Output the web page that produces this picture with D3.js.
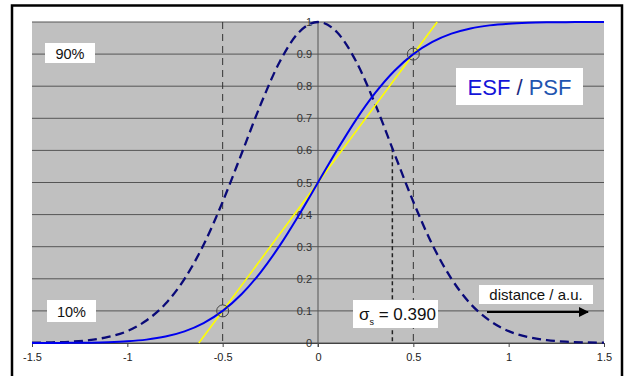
<!DOCTYPE html>
<html>
<head>
<meta charset="utf-8">
<script src="https://cdn.jsdelivr.net/npm/d3@7"></script>
<style>
  body { margin: 0; background: #fff; }
  svg { display: block; font-family: "Liberation Sans", Arial, sans-serif; }
</style>
</head>
<body>
<div id="chart"></div>
<script>
// distance samples (a.u.)
const xs = [-1.5, -1.4, -1.3, -1.2, -1.1, -1.0, -0.9, -0.8, -0.7, -0.6, -0.5, -0.4, -0.3, -0.2, -0.1,
    0, 0.1, 0.2, 0.3, 0.4, 0.5, 0.6, 0.7, 0.8, 0.9, 1.0, 1.1, 1.2, 1.3, 1.4, 1.5];

// edge spread function
const esf = [0.0001, 0.0002, 0.0004, 0.001, 0.0024, 0.0052, 0.0105, 0.0201, 0.0363, 0.062, 0.10, 0.1525, 0.221, 0.304, 0.399,
    0.5, 0.601, 0.696, 0.779, 0.8475, 0.90, 0.938, 0.9637, 0.9799, 0.9895, 0.9948, 0.9976, 0.999, 0.9996, 0.9998, 0.9999];

// point spread function
const psf = [0.001, 0.002, 0.004, 0.009, 0.019, 0.037, 0.070, 0.122, 0.200, 0.306, 0.440, 0.591, 0.744, 0.877, 0.968,
    1, 0.968, 0.877, 0.744, 0.591, 0.440, 0.306, 0.200, 0.122, 0.070, 0.037, 0.019, 0.009, 0.004, 0.002, 0.001];

// 10 % / 90 % points and the straight line through them
const markPoints = [[-0.5, 0.1], [0.5, 0.9]];
const tangent = [[-0.625, 0], [0.625, 1]];
const sigma = 0.390;
const sigmaHeight = 0.607;

const xTicks = [-1.5, -1, -0.5, 0, 0.5, 1, 1.5];
const yTicks = [0, 0.1, 0.2, 0.3, 0.4, 0.5, 0.6, 0.7, 0.8, 0.9, 1];

const width = 626, height = 376;
const plot = { left: 32, right: 604, top: 22, bottom: 343 };

const svg = d3.select('#chart').append('svg')
    .attr('width', width)
    .attr('height', height);

const x = d3.scaleLinear().domain([-1.5, 1.5]).range([plot.left, plot.right]);
const y = d3.scaleLinear().domain([0, 1]).range([plot.bottom, plot.top]);

// outer frame
svg.append('rect')
    .attr('x', 12).attr('y', 5.5)
    .attr('width', 610).attr('height', 380)
    .attr('fill', '#fff')
    .attr('stroke', '#000')
    .attr('stroke-width', 2.5);

svg.append('rect')
    .attr('x', plot.left).attr('y', plot.top)
    .attr('width', plot.right - plot.left).attr('height', plot.bottom - plot.top)
    .attr('fill', '#c0c0c0');

// horizontal grid
svg.append('g')
    .selectAll('line')
    .data(yTicks)
    .enter()
    .append('line')
    .attr('x1', plot.left).attr('x2', plot.right)
    .attr('y1', d => y(d)).attr('y2', d => y(d))
    .attr('stroke', '#555')
    .attr('stroke-width', 1);

// x axis with ticks
const xAxis = d3.axisBottom(x)
    .tickValues(xTicks)
    .tickSize(4)
    .tickFormat(d => String(d));

svg.append('g')
    .attr('transform', `translate(0, ${plot.bottom})`)
    .call(xAxis)
    .call(g => g.select('.domain').attr('stroke', '#444'))
    .call(g => g.selectAll('.tick line').attr('stroke', '#444'))
    .call(g => g.selectAll('.tick text')
        .attr('y', 10)
        .attr('fill', '#222')
        .style('font-size', '11px')
        .style('font-family', '"Liberation Sans", Arial, sans-serif'));

// vertical axis at 0
svg.append('line')
    .attr('x1', x(0)).attr('x2', x(0))
    .attr('y1', plot.top).attr('y2', plot.bottom + 4)
    .attr('stroke', '#555');

// y tick labels next to the centre axis
svg.append('g')
    .selectAll('text')
    .data(yTicks)
    .enter()
    .append('text')
    .attr('x', x(0) - 6)
    .attr('y', d => y(d) + 4)
    .attr('text-anchor', 'end')
    .attr('fill', '#333')
    .style('font-size', '11px')
    .text(d => String(d));

// dashed verticals at the 10/90 points
svg.append('g')
    .selectAll('line')
    .data(markPoints)
    .enter()
    .append('line')
    .attr('x1', d => x(d[0])).attr('x2', d => x(d[0]))
    .attr('y1', plot.top).attr('y2', plot.bottom)
    .attr('stroke', '#333')
    .attr('stroke-dasharray', '7,5');

// sigma marker
svg.append('line')
    .attr('x1', x(sigma)).attr('x2', x(sigma))
    .attr('y1', y(sigmaHeight)).attr('y2', plot.bottom)
    .attr('stroke', '#222')
    .attr('stroke-width', 1.5)
    .attr('stroke-dasharray', '4,3');

const line = d3.line()
    .x((d, i) => x(xs[i]))
    .y(d => y(d))
    .curve(d3.curveMonotoneX);

svg.append('path')
    .attr('d', line(psf))
    .attr('fill', 'none')
    .attr('stroke', '#0a0a78')
    .attr('stroke-width', 2.3)
    .attr('stroke-dasharray', '9,5');

svg.append('path')
    .attr('d', d3.line().x(d => x(d[0])).y(d => y(d[1]))(tangent))
    .attr('stroke', '#ffff00')
    .attr('stroke-width', 1.6);

svg.append('path')
    .attr('d', line(esf))
    .attr('fill', 'none')
    .attr('stroke', '#0000ee')
    .attr('stroke-width', 2);

svg.append('g')
    .selectAll('circle')
    .data(markPoints)
    .enter()
    .append('circle')
    .attr('cx', d => x(d[0]))
    .attr('cy', d => y(d[1]))
    .attr('r', 6)
    .attr('fill', 'none')
    .attr('stroke', '#444')
    .attr('stroke-width', 1);

// label boxes
function box(bx, by, bw, bh) {
    svg.append('rect')
        .attr('x', bx).attr('y', by)
        .attr('width', bw).attr('height', bh)
        .attr('fill', '#fff');
}

box(45, 43, 50, 20);
svg.append('text').attr('x', 70).attr('y', 58.5).attr('text-anchor', 'middle')
    .style('font-size', '14.5px').attr('fill', '#111').text('90%');

box(47, 300, 49, 22);
svg.append('text').attr('x', 71.5).attr('y', 316.5).attr('text-anchor', 'middle')
    .style('font-size', '14.5px').attr('fill', '#111').text('10%');

box(456, 68, 127, 37);
const title = svg.append('text').attr('x', 519.5).attr('y', 94.5).attr('text-anchor', 'middle')
    .style('font-size', '22px');
title.append('tspan').attr('fill', '#1414d8').text('ESF');
title.append('tspan').attr('fill', '#1a2a80').text(' / ');
title.append('tspan').attr('fill', '#1f55b0').text('PSF');

box(353, 300, 85, 28);
const sig = svg.append('text').attr('x', 359).attr('y', 320).style('font-size', '17px').attr('fill', '#111');
sig.append('tspan').text('σ');
sig.append('tspan').attr('dy', 5).style('font-size', '9px').text('s');
sig.append('tspan').attr('dy', -5).text(' = 0.390');

box(479, 285, 114, 19);
svg.append('text').attr('x', 536).attr('y', 299.5).attr('text-anchor', 'middle')
    .style('font-size', '15px').attr('fill', '#111').text('distance / a.u.');

// arrow
svg.append('defs').append('marker')
    .attr('id', 'arrow')
    .attr('viewBox', '0 0 10 10')
    .attr('refX', 9).attr('refY', 5)
    .attr('markerWidth', 6).attr('markerHeight', 5)
    .attr('markerUnits', 'strokeWidth')
    .attr('orient', 'auto')
    .append('path')
    .attr('d', 'M0,0 L10,5 L0,10 z')
    .attr('fill', '#000');

svg.append('line')
    .attr('x1', 487).attr('x2', 588)
    .attr('y1', 312).attr('y2', 312)
    .attr('stroke', '#000')
    .attr('stroke-width', 2)
    .attr('marker-end', 'url(#arrow)');
</script>
</body>
</html>
